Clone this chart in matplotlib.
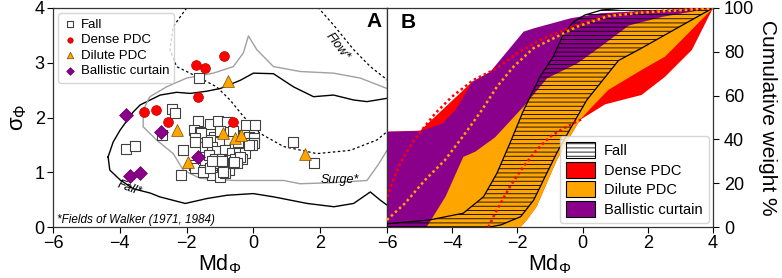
import numpy as np
import matplotlib
matplotlib.use("Agg")
import matplotlib.pyplot as plt
from matplotlib.patches import Patch

plt.rcParams['font.family'] = ['Liberation Sans', 'DejaVu Sans']
plt.rcParams['mathtext.fontset'] = 'custom'
plt.rcParams['mathtext.rm'] = 'Liberation Sans'
plt.rcParams['mathtext.it'] = 'Liberation Sans:italic'
plt.rcParams['mathtext.default'] = 'regular'
plt.rcParams['hatch.linewidth'] = 0.6

# ---------------- Panel A data ----------------
fall_md = [-1.62, -2.45, -2.35, -3.8, -3.55, -2.73, -2.1, -2.17, 1.2, 1.8,
           -1.66, -1.29, -1.06, -0.79, -0.21, 0.06,
           -1.79, -1.6, -1.57, -1.75, -1.19, -1.74, -1.26, -0.99, -0.74, -0.29, -0.14, 0.01, -0.19, 0.01,
           -1.46, -1.24, -1.09, -0.84, -0.54, -0.29, -0.03, -0.64, -0.44, -0.24, -1.34, -1.16, -0.94, -0.74,
           -0.54, -0.34, -0.39,
           -1.77, -1.74, -1.49, -1.24, -1.04, -0.79, -0.49, -1.24, -0.99, -0.74, -1.5, -1.3, -0.85, -0.91,
           -0.6, -1.23, -0.95, -0.59, -0.14, -1.0, -0.6, -0.45, -1.4]
fall_sd = [2.73, 2.15, 2.08, 1.43, 1.48, 1.68, 1.40, 0.95, 1.56, 1.16,
           1.94, 1.88, 1.94, 1.91, 1.86, 1.86,
           1.77, 1.74, 1.71, 1.62, 1.65, 1.56, 1.59, 1.56, 1.59, 1.68, 1.65, 1.62, 1.53, 1.54,
           1.47, 1.47, 1.38, 1.41, 1.47, 1.44, 1.50, 1.35, 1.35, 1.35, 1.32, 1.25, 1.25, 1.22,
           1.25, 1.25, 1.28,
           1.13, 1.07, 1.04, 1.10, 1.16, 1.13, 1.16, 0.95, 0.92, 1.04, 1.00, 1.07, 0.98, 1.01,
           1.16, 1.21, 1.20, 1.19, 1.50, 1.75, 1.75, 1.55, 1.55]
dense_md = [-3.27, -2.93, -2.55, -1.72, -1.46, -0.87, -1.67, -0.61]
dense_sd = [2.10, 2.13, 1.92, 2.96, 2.90, 3.13, 2.38, 1.91]
dilute_md = [-0.75, -2.3, -0.9, -0.56, -0.36, -1.95, 1.53]
dilute_sd = [2.66, 1.77, 1.71, 1.63, 1.68, 1.19, 1.34]
ballistic_md = [-3.8, -2.76, -1.66, -3.68, -3.41]
ballistic_sd = [2.05, 1.74, 1.28, 0.93, 0.99]

# Walker (1971, 1984) fields
walker_fall_x = [-4.35, -4.2, -3.99, -3.6, -3.39, -2.79, -2.3, -1.89, -1.4, -0.99, -0.39, 0.0, 0.6, 1.2, 1.8, 2.4,
                 3.0, 3.4, 4.0, 4.3, 4.3, 4.0, 3.8, 3.5, 3.0, 2.41, 1.61, 0.61, 0.0, -0.79, -1.39, -2.04,
                 -2.8, -3.09, -3.6, -3.99, -4.3, -4.35]
walker_fall_y = [1.28, 1.55, 1.77, 2.1, 2.23, 2.41, 2.46, 2.44, 2.48, 2.53, 2.68, 2.81, 2.80, 2.56, 2.38, 2.41,
                 2.32, 2.29, 2.35, 2.35, 0.40, 0.40, 0.49, 0.64, 0.43, 0.37, 0.43, 0.55, 0.61, 0.58, 0.52, 0.43,
                 0.55, 0.62, 0.70, 0.86, 1.04, 1.28]
walker_surge_x = [4.3, 4.0, 3.2, 2.4, 1.4, 0.6, 0.1, -0.15, -0.3, -0.6, -1.2, -2.0, -2.6, -3.1, -3.3, -3.3,
                  -2.9, -2.4, -2.1, -1.6, -0.6, 0.9, 1.4, 2.4, 3.4, 3.75, 4.0, 4.3]
walker_surge_y = [2.45, 2.53, 2.72, 2.81, 2.84, 2.93, 3.24, 3.49, 3.18, 2.93, 2.81, 2.72, 2.56, 2.38, 2.14, 1.83,
                  1.59, 1.34, 1.04, 0.89, 0.85, 0.85, 0.79, 0.81, 0.85, 1.15, 1.40, 1.65]
walker_flow_x = [4.3, 4.0, 3.7, 2.9, 1.9, 0.9, 0.2, -0.3, -0.7, -1.1, -1.6, -2.3, -2.5, -2.4, -2.0, -1.5,
                 1.5, 1.95, 2.4, 3.0, 3.5, 4.0, 4.3]
walker_flow_y = [1.9, 1.74, 1.59, 1.40, 1.34, 1.47, 1.71, 2.02, 2.32, 2.56, 2.72, 2.93, 3.24, 3.66, 4.0, 4.4,
                 4.4, 4.0, 3.69, 3.24, 2.93, 2.69, 2.5]

# ---------------- Panel B data ----------------
ballistic_up_x = [-6, -4.98, -4.3, -3.9, -3.38, -2.83, -1.81, -1.5, -0.37, 0.55, 2.0, 4.0]
ballistic_up_y = [43.5, 43.8, 47.3, 53.4, 66.4, 70.9, 89.2, 90.7, 95.3, 97.6, 98.8, 100]
ballistic_lo_x = [-6, -4.8, -3.5, -2.5, -1.5, -0.5, 0.5, 1.5, 2.5, 4.0]
ballistic_lo_y = [0, 0, 25, 40, 55, 68, 78, 88, 94, 100]

dense_up_x = [-6, -4.98, -3.38, -2.83, -1.81, -0.37, 0.55, 4.0]
dense_up_y = [43.5, 44, 66.4, 68, 86, 93, 96, 100]
dense_lo_x = [-6, -1.9, -1.71, -1.41, -1.1, -0.79, -0.39, -0.08, 0.69, 1.81, 2.53, 3.35, 4.0]
dense_lo_y = [0, 0, 3.2, 9.3, 20, 30.6, 41.2, 48.9, 56, 60.3, 68.6, 80.8, 100]

dilute_up_x = [-4.78, -4.2, -3.66, -3.29, -2.68, -1.81, -1.09, -0.16, 0.55, 1.42, 2.46, 4.0]
dilute_up_y = [0, 14, 32, 34.4, 41, 55, 67.9, 74.7, 82.3, 92, 96, 100]
dilute_lo_x = [-4.78, -1.9, -1.71, -1.41, -1.1, -0.79, -0.39, -0.08, 0.3, 0.79, 1.81, 2.53, 3.14, 4.0]
dilute_lo_y = [0, 0, 3.2, 9.3, 20, 30.6, 41.2, 48.9, 55, 62.6, 71.7, 77.8, 86.9, 100]

fall_left_x = [-6, -4.7, -3.66, -3.04, -2.63, -2.23, -1.82, -1.31, -0.9, -0.59, -0.28, 0.07, 0.59, 1.3, 4.0]
fall_left_y = [1.5, 3.2, 6.3, 13.8, 24.5, 38.2, 53, 68.6, 77.8, 88, 93.7, 96.8, 99.1, 100, 100]
fall_right_x = [-6, -2.84, -2.5, -1.9, -1.5, -1.2, -0.8, -0.4, 0.13, 0.4, 1.1, 1.8, 2.8, 4.0]
fall_right_y = [0, 0, 1, 4.7, 12.3, 21.5, 33.6, 44.3, 58, 63, 76, 81.6, 90, 100]

dense_med1_x = [-6, -5.65, -5.24, -4.93, -4.52, -4.01, -3.35, -2.63, -2.01, -1.31, -0.69, -0.18, 0.79, 1.81, 2.83, 4.0]
dense_med1_y = [13.8, 27.5, 38.2, 44.3, 51.9, 59.5, 67.1, 72.5, 79.3, 85.4, 89.2, 92.2, 96.8, 98.2, 99, 100]
dense_med2_x = [-2.89, -2.63, -2.23, -1.82, -1.41, -1.0, -0.59, -0.18, 0.02]
dense_med2_y = [0, 7.8, 18.4, 27.5, 35.2, 41.2, 45, 48.1, 49.6]
dilute_med_x = [-6, -5.45, -4.83, -4.22, -3.6, -3.09, -2.63, -2.12, -1.51, -0.79, -0.18, 0.79, 1.81, 2.83, 4.0]
dilute_med_y = [3.2, 10.8, 21.5, 30.6, 42.8, 53.4, 64, 73.2, 81.6, 86.9, 91.4, 96.3, 97.9, 98.8, 100]

RED = '#ff0000'
ORANGE = '#ffa500'
PURPLE = '#8b008b'

fig = plt.figure(figsize=(7.82, 2.78), dpi=100)
axA = fig.add_axes([53 / 782, 51 / 278, 334 / 782, 219 / 278])
axB = fig.add_axes([387 / 782, 51 / 278, 326 / 782, 219 / 278])

for ax in (axA, axB):
    for sp in ax.spines.values():
        sp.set_color('#333333')
        sp.set_linewidth(0.9)

# ---------------- Panel A ----------------
axA.plot(walker_fall_x, walker_fall_y, color='black', lw=1.0, zorder=1)
axA.plot(walker_surge_x, walker_surge_y, color='#a0a0a0', lw=1.0, zorder=1)
axA.plot(walker_flow_x, walker_flow_y, color='black', lw=0.9, ls=(0, (2, 2)), zorder=1)

axA.scatter(fall_md, fall_sd, marker='s', s=58, facecolor='white', edgecolor='#404040', lw=0.8, zorder=3,
            label='Fall')
axA.scatter(dense_md, dense_sd, marker='o', s=50, facecolor=RED, edgecolor='#c00000', lw=0.5, zorder=4,
            label='Dense PDC')
axA.scatter(dilute_md, dilute_sd, marker='^', s=72, facecolor=ORANGE, edgecolor='#7a4a00', lw=0.5, zorder=4,
            label='Dilute PDC')
axA.scatter(ballistic_md, ballistic_sd, marker='D', s=50, facecolor=PURPLE, edgecolor='#5a005a', lw=0.5,
            zorder=4, label='Ballistic curtain')

axA.set_xlim(-6, 4)
axA.set_ylim(0, 4)
axA.set_xticks([-6, -4, -2, 0, 2])
axA.set_yticks([0, 1, 2, 3, 4])
axA.tick_params(labelsize=13, length=4, pad=2)
axA.set_xlabel('Md$_{\\Phi}$', fontsize=15.5, labelpad=0)
axA.set_ylabel('σ$_{\\Phi}$', fontsize=16, labelpad=4)

axA.text(-5.88, 0.12, '*Fields of Walker (1971, 1984)', fontsize=8.5, style='italic', ha='left', va='center')
axA.text(-3.72, 0.70, 'Fall*', fontsize=9, style='italic', ha='center', va='center', rotation=-20)
axA.text(2.6, 0.86, 'Surge*', fontsize=9, style='italic', ha='center', va='center')
axA.text(2.52, 3.3, 'Flow*', fontsize=9, style='italic', ha='center', va='center', rotation=-52)
axA.text(3.62, 3.76, 'A', fontsize=15, fontweight='bold', ha='center', va='center')

legA = axA.legend(loc='upper left', fontsize=9.5, handletextpad=0.3, borderpad=0.4, labelspacing=0.25,
                  handlelength=1.0, markerscale=0.55, borderaxespad=0.4)

# ---------------- Panel B ----------------
axB.fill(np.concatenate([dense_up_x, dense_lo_x[::-1]]), np.concatenate([dense_up_y, dense_lo_y[::-1]]),
         facecolor=RED, edgecolor='none', zorder=1)
axB.fill(np.concatenate([ballistic_up_x, ballistic_lo_x[::-1]]),
         np.concatenate([ballistic_up_y, ballistic_lo_y[::-1]]),
         facecolor=PURPLE, edgecolor='none', zorder=2)
axB.fill(np.concatenate([dilute_up_x, dilute_lo_x[::-1]]), np.concatenate([dilute_up_y, dilute_lo_y[::-1]]),
         facecolor=ORANGE, edgecolor='none', zorder=3)
axB.fill(np.concatenate([fall_left_x, fall_right_x[::-1]]), np.concatenate([fall_left_y, fall_right_y[::-1]]),
         facecolor='none', edgecolor='black', hatch='----', lw=0.9, zorder=4)

axB.plot(dense_med1_x, dense_med1_y, color=RED, lw=1.8, ls=(0, (1, 1.2)), zorder=5)
axB.plot(dilute_med_x, dilute_med_y, color=ORANGE, lw=1.8, ls=(0, (1, 1.2)), zorder=5)
axB.plot(dense_med2_x, dense_med2_y, color=RED, lw=1.8, ls=(0, (1, 1.2)), zorder=5)

axB.set_xlim(-6, 4)
axB.set_ylim(0, 100)
axB.set_xticks([-6, -4, -2, 0, 2, 4])
axB.set_yticks([0, 20, 40, 60, 80, 100])
axB.yaxis.tick_right()
axB.yaxis.set_label_position('right')
axB.tick_params(labelsize=13, length=4, pad=2)
axB.tick_params(axis='y', pad=4)
axB.set_xlabel('Md$_{\\Phi}$', fontsize=15.5, labelpad=0)
axB.set_ylabel('Cumulative weight %', fontsize=15, rotation=270, labelpad=16)
axB.text(-5.35, 93.5, 'B', fontsize=15, fontweight='bold', ha='center', va='center')

handles = [Patch(facecolor='white', edgecolor='black', hatch='----', lw=0.8, label='Fall'),
           Patch(facecolor=RED, edgecolor='black', lw=0.8, label='Dense PDC'),
           Patch(facecolor=ORANGE, edgecolor='black', lw=0.8, label='Dilute PDC'),
           Patch(facecolor=PURPLE, edgecolor='black', lw=0.8, label='Ballistic curtain')]
legB = axB.legend(handles=handles, loc='lower right', fontsize=10.5, handlelength=2.0, handleheight=1.3,
                  labelspacing=0.25, borderpad=0.4, handletextpad=0.6, borderaxespad=0.3)
legB.set_zorder(10)

fig.savefig('out.png', dpi=100)
